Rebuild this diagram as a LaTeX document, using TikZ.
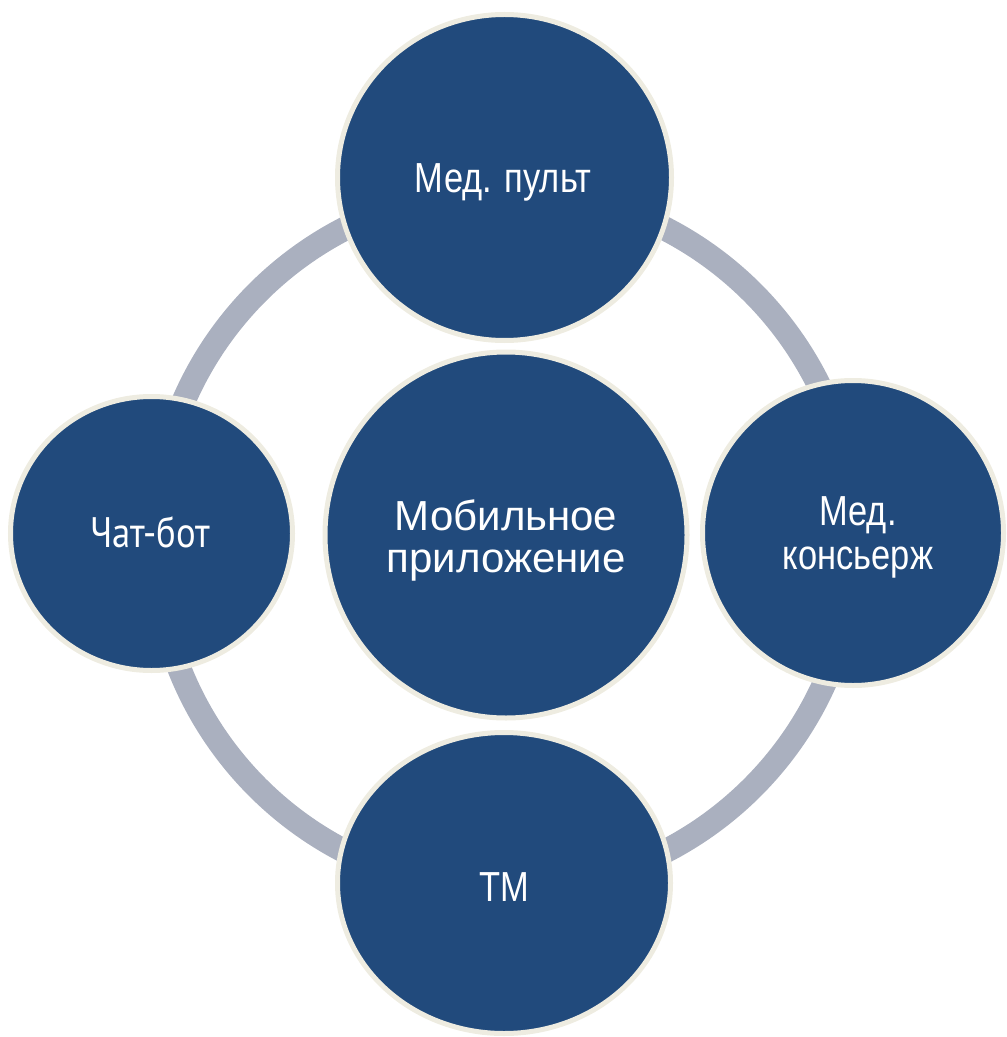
\documentclass[tikz,border=0pt]{standalone}
\usepackage{fontspec}
\setmainfont{Liberation Sans}
\newfontfamily\narrowf[FakeStretch=0.82]{Liberation Sans}
\newfontfamily\botf[FakeStretch=0.86]{PT Sans}
\usetikzlibrary{shapes.geometric}
\definecolor{bluefill}{HTML}{214A7C}
\definecolor{ringgray}{HTML}{AAB0BF}
\definecolor{cream}{HTML}{EEECE1}
\tikzset{
  bubble/.style={ellipse, fill=bluefill, draw=cream, line width=3.75pt, inner sep=0pt},
  ringline/.style={draw=ringgray, line width=18pt},
  txt/.style={text=white, inner sep=0pt, align=center},
}
\begin{document}
\begin{tikzpicture}[x=0.75pt,y=-0.75pt]
\useasboundingbox (0,0) rectangle (1006,1037);
\clip (0,0) rectangle (1006,1037);
\coordinate (rc) at (505,540);
\draw[ringline] (rc) circle[radius=350];
\node[bubble, minimum width=250.5pt, minimum height=244.5pt] (top) at (504.5,177.5) {};
\node[bubble, minimum width=271.5pt, minimum height=274.5pt] (mid) at (506,535) {};
\node[bubble, minimum width=211.5pt, minimum height=205.5pt] (left) at (151.5,533.5) {};
\node[bubble, minimum width=225.75pt, minimum height=228.75pt] (right) at (853,533) {};
\node[bubble, minimum width=249.75pt, minimum height=225.75pt] (bot) at (504,883) {};
\node[txt, anchor=base, font=\narrowf\fontsize{31.5}{31.5}\selectfont] (ttop) at (503,193) {Мед. пульт};
\node[txt, anchor=center, font=\fontsize{31.5}{31.5}\selectfont] (tmid) at (506,540) {Мобильное\\приложение};
\node[txt, anchor=base, font=\botf\fontsize{32}{32}\selectfont] (tleft) at (150,547) {Чат-бот};
\node[txt, anchor=center, font=\narrowf\fontsize{31.5}{33}\selectfont] (tright) at (858,537) {Мед.\\консьерж};
\node[txt, anchor=base, font=\narrowf\fontsize{31.5}{31.5}\selectfont] (tbot) at (504,901) {ТМ};
\end{tikzpicture}
\end{document}
